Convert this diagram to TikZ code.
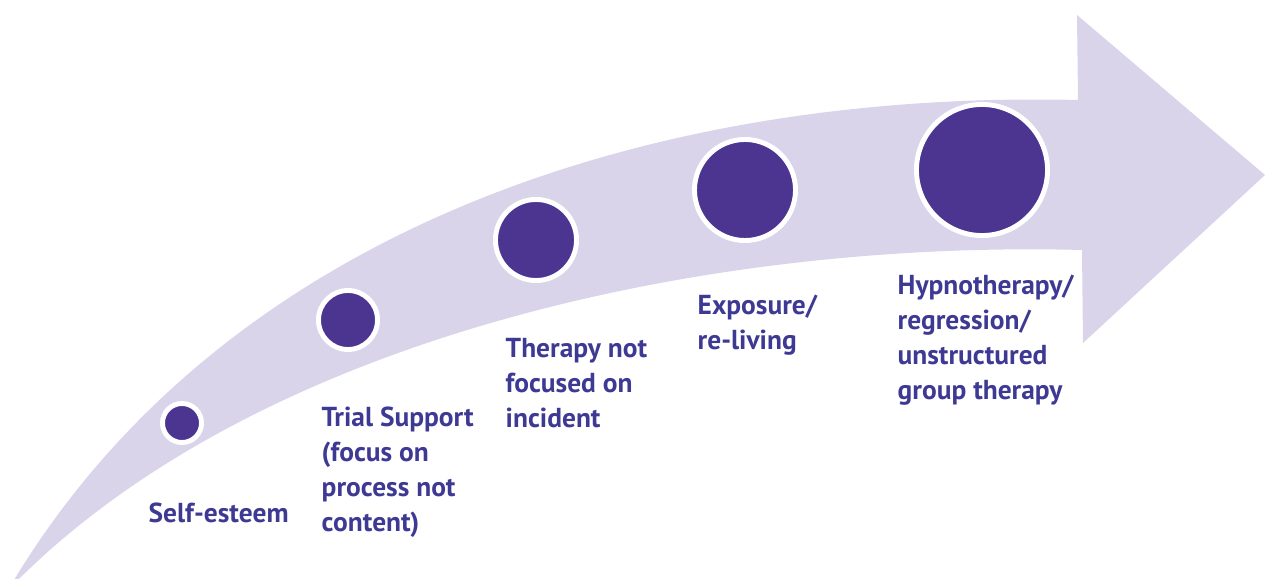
\documentclass[tikz,border=0pt]{standalone}
\usepackage{fontspec}
\setsansfont{PT Sans}
\definecolor{bandlilac}{HTML}{D9D4EA}
\definecolor{dotpurple}{HTML}{4B3590}
\definecolor{labelblue}{HTML}{3E3A94}
\tikzset{
  dot/.style={circle,fill=dotpurple,draw=white,line width=1.4pt,inner sep=0pt},
  lbl/.style={anchor=north west,align=left,inner sep=0pt,text=labelblue,
    font=\sffamily\bfseries\fontsize{7.8}{9.96}\selectfont},
}
\begin{document}
\begin{tikzpicture}[x=0.01cm,y=-0.01cm]
\useasboundingbox (0,0) rectangle (1266,579);
\clip (0,0) rectangle (1266,579);
% the curved band and its head
\fill[bandlilac] (8,590) .. controls (220,230) and (650,90) .. (1078,100)
   -- (1077,15) -- (1265,175) -- (1083,343) -- (1082,250)
   .. controls (700,240) and (250,340) .. (8,590) -- cycle;
% steps, growing along the band
\node[dot,minimum size=0.39cm] (selfesteem) at (182,423) {};
\node[dot,minimum size=0.59cm] (trial) at (348,320) {};
\node[dot,minimum size=0.81cm] (therapy) at (536,240) {};
\node[dot,minimum size=1.01cm] (exposure) at (745,190) {};
\node[dot,minimum size=1.31cm] (hypno) at (982,170) {};
% labels
\node[lbl] (selfesteemtext) at (148,502) {Self-esteem};
\node[lbl] (trialtext) at (321,406) {Trial Support\\(focus on\\process not\\content)};
\node[lbl] (therapytext) at (505,338) {Therapy not\\focused on\\incident};
\node[lbl] (exposuretext) at (697,294) {Exposure/\\re-living};
\node[lbl] (hypnotext) at (897,274) {Hypnotherapy/\\regression/\\unstructured\\group therapy};
\end{tikzpicture}
\end{document}
